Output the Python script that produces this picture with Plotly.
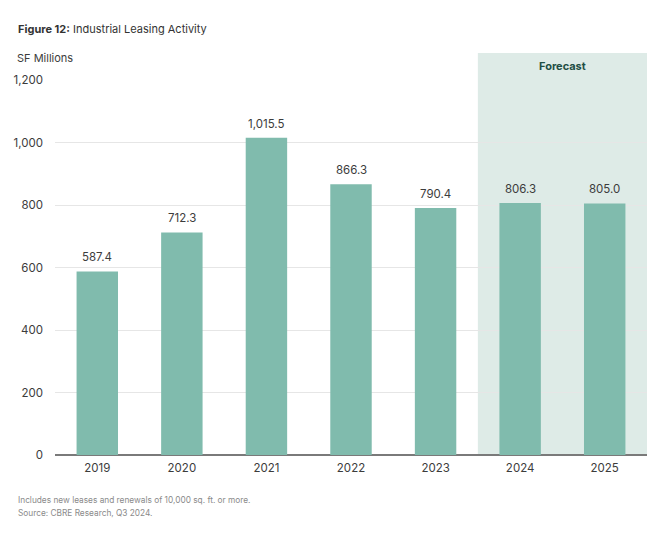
import plotly.graph_objects as go

years = ["2019", "2020", "2021", "2022", "2023", "2024", "2025"]
leasing = [587.4, 712.3, 1015.5, 866.3, 790.4, 806.3, 805.0]
forecast_years = ["2024", "2025"]
y_ticks = [0, 200, 400, 600, 800, 1000, 1200]
y_tick_labels = ["0", "200", "400", "600", "800", "1,000", "1,200"]

FONT = "Inter, Roboto, sans-serif"
TXT = "#3c3c3c"
BAR = "#80bbad"

# page body has an 8px margin; size the figure to fill the rest of the window
OFF = 8
FW, FH = 666 - OFF, 534 - OFF
ML, MR, MT, MB = 55 - OFF, 19, 80 - OFF, 79

fig = go.Figure()
fig.add_trace(go.Bar(
    x=list(range(len(years))), y=leasing,
    marker=dict(color=BAR, line=dict(width=0)),
    width=0.49, hoverinfo="x+y",
))

fi0 = years.index(forecast_years[0])
fi1 = years.index(forecast_years[-1])
H = FH - MT - MB
W = FW - ML - MR
def px(x):
    return (x - OFF - ML) / W
def py(y):
    return (FH + OFF - MB - y) / H

# forecast shading
fig.add_shape(type="rect", xref="x", yref="paper",
              x0=fi0 - 0.5, x1=fi1 + 0.5, y0=0, y1=py(53),
              fillcolor="#deebe7", line=dict(width=0), layer="below")
fig.add_annotation(x=(fi0 + fi1) / 2, xref="x", y=py(66), yref="paper",
                   text="<b>Forecast</b>", showarrow=False,
                   xanchor="center", yanchor="middle",
                   font=dict(family=FONT, size=11, color="#1f4f45"))

for i, v in enumerate(leasing):
    fig.add_annotation(x=i, y=v, text=f"{v:,.1f}", showarrow=False,
                       yanchor="bottom", yshift=5,
                       font=dict(family=FONT, size=11.5, color=TXT))

fig.update_layout(
    width=FW, height=FH,
    margin=dict(l=ML, r=MR, t=MT, b=MB, autoexpand=False),
    paper_bgcolor="white", plot_bgcolor="rgba(0,0,0,0)",
    showlegend=False,
    font=dict(family=FONT, color=TXT),
    xaxis=dict(
        tickmode="array", tickvals=list(range(len(years))), ticktext=years,
        range=[-0.5, len(years) - 0.5], showgrid=False, zeroline=False,
        showline=False, ticks="", tickfont=dict(size=11.5, color=TXT),
        ticklabelstandoff=4, automargin=False,
    ),
    yaxis=dict(
        range=[0, 1200], tickmode="array", tickvals=y_ticks, ticktext=y_tick_labels,
        showgrid=True, gridcolor="#e6e6e6", gridwidth=1,
        zeroline=True, zerolinecolor="#7a7a7a", zerolinewidth=1.5,
        showline=False, ticks="", tickfont=dict(size=11.5, color=TXT),
        ticklabelstandoff=11, automargin=False,
    ),
)

fig.add_annotation(x=px(16), y=py(29), xref="paper", yref="paper",
                   xanchor="left", yanchor="middle", showarrow=False,
                   text="<b>Figure 12:</b> Industrial Leasing Activity",
                   font=dict(family=FONT, size=11, color="#333333"))
fig.add_annotation(x=px(15), y=py(58), xref="paper", yref="paper",
                   xanchor="left", yanchor="middle", showarrow=False,
                   text="SF Millions",
                   font=dict(family=FONT, size=11, color=TXT))
fig.add_annotation(x=px(16), y=py(500), xref="paper", yref="paper",
                   xanchor="left", yanchor="middle", showarrow=False,
                   text="Includes new leases and renewals of 10,000 sq. ft. or more.",
                   font=dict(family=FONT, size=8.3, color="#8a8a8a"))
fig.add_annotation(x=px(16), y=py(513), xref="paper", yref="paper",
                   xanchor="left", yanchor="middle", showarrow=False,
                   text="Source: CBRE Research, Q3 2024.",
                   font=dict(family=FONT, size=8.3, color="#8a8a8a"))

fig.write_html("out.html")
